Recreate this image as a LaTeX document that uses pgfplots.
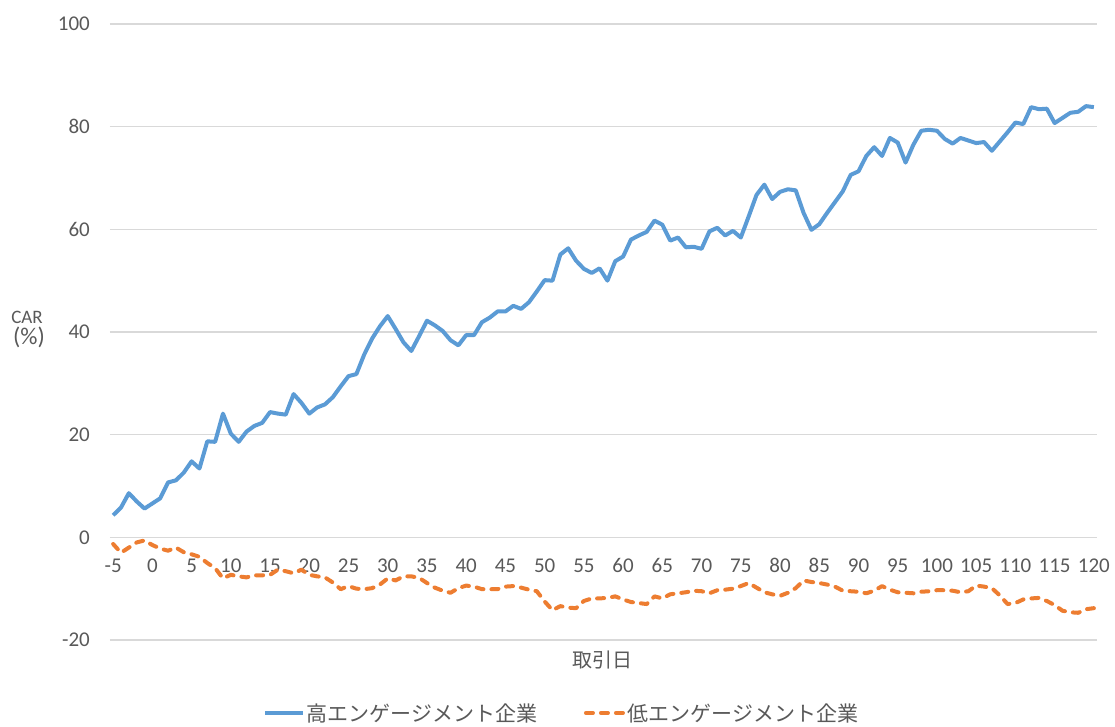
\documentclass[border=0pt]{standalone}
\usepackage{pgfplots}
\pgfplotsset{compat=1.18}
\usepackage{pgfplotstable}
\usepackage{fontspec}
\setmainfont{Carlito}
\newfontfamily\jp{Noto Sans CJK JP}
\definecolor{cblue}{HTML}{5B9BD5}
\definecolor{corange}{HTML}{ED7D31}
\definecolor{cgrid}{HTML}{D9D9D9}
\definecolor{ctext}{HTML}{595959}

\pgfplotstableread{
d hi lo
-5 4.3 -1.3
-4 5.8 -3.0
-3 8.6 -2.0
-2 7.0 -1.0
-1 5.6 -0.6
0 6.6 -1.5
1 7.6 -2.2
2 10.7 -2.6
3 11.1 -2.0
4 12.6 -2.9
5 14.8 -3.3
6 13.4 -3.8
7 18.7 -5.0
8 18.6 -6.0
9 24.1 -8.0
10 20.2 -7.3
11 18.6 -7.6
12 20.6 -7.8
13 21.7 -7.4
14 22.3 -7.4
15 24.4 -7.3
16 24.1 -6.3
17 23.9 -6.6
18 27.9 -7.0
19 26.2 -6.3
20 24.1 -7.3
21 25.3 -7.6
22 25.9 -7.8
23 27.3 -8.8
24 29.4 -10.1
25 31.4 -9.5
26 31.8 -10.0
27 35.6 -10.1
28 38.7 -9.9
29 41.1 -9.2
30 43.1 -8.0
31 40.6 -8.4
32 38.0 -7.6
33 36.3 -7.6
34 39.2 -7.9
35 42.2 -8.9
36 41.3 -9.8
37 40.2 -10.4
38 38.4 -10.8
39 37.4 -9.9
40 39.4 -9.4
41 39.4 -9.6
42 41.9 -10.1
43 42.8 -10.1
44 44.0 -10.1
45 44.0 -9.6
46 45.1 -9.5
47 44.5 -9.8
48 45.8 -10.2
49 47.9 -10.5
50 50.1 -12.5
51 50.0 -14.2
52 55.1 -13.4
53 56.3 -13.7
54 53.9 -13.8
55 52.3 -12.4
56 51.5 -11.9
57 52.4 -11.9
58 50.0 -11.8
59 53.8 -11.5
60 54.7 -12.1
61 58.0 -12.6
62 58.8 -12.8
63 59.5 -13.0
64 61.7 -11.5
65 60.9 -11.9
66 57.8 -11.1
67 58.4 -10.9
68 56.5 -10.7
69 56.6 -10.4
70 56.2 -10.5
71 59.6 -10.9
72 60.3 -10.3
73 58.8 -10.2
74 59.7 -10.0
75 58.4 -9.5
76 62.5 -8.9
77 66.7 -9.8
78 68.7 -10.7
79 65.9 -11.1
80 67.3 -11.4
81 67.8 -10.8
82 67.6 -9.9
83 63.2 -8.4
84 59.9 -8.7
85 61.0 -8.9
86 63.2 -9.2
87 65.3 -9.6
88 67.4 -10.4
89 70.6 -10.5
90 71.3 -10.6
91 74.3 -10.9
92 76.0 -10.4
93 74.3 -9.5
94 77.8 -10.2
95 76.9 -10.7
96 73.0 -10.8
97 76.5 -10.9
98 79.2 -10.6
99 79.4 -10.5
100 79.2 -10.3
101 77.6 -10.3
102 76.7 -10.4
103 77.8 -10.7
104 77.3 -10.5
105 76.8 -9.4
106 77.0 -9.6
107 75.3 -9.9
108 77.1 -11.3
109 78.9 -13.0
110 80.8 -12.8
111 80.5 -12.1
112 83.8 -11.9
113 83.4 -11.8
114 83.5 -12.4
115 80.7 -13.2
116 81.7 -14.3
117 82.7 -14.6
118 82.9 -14.7
119 84.0 -14.0
120 83.8 -13.8
}\datatable

\begin{document}
\begin{tikzpicture}
\path[use as bounding box] (-110pt,-87pt) rectangle (1005pt,640pt);
\begin{axis}[
  at={(0pt,0pt)}, anchor=south west,
  scale only axis, width=987pt, height=616pt,
  xmin=-5.4, xmax=120.4, ymin=-20, ymax=100,
  axis x line*=middle, axis y line*=left,
  axis line style={draw=none},
  major tick length=0pt,
  xtick={-5,0,...,120}, ytick={-20,0,...,100},
  ymajorgrids, grid style={cgrid, line width=1.5pt},
  /pgf/number format/assume math mode=true,
  tick label style={font=\fontsize{21}{24}\selectfont, text=ctext, inner sep=0pt},
  xticklabel style={anchor=north, yshift=-21pt},
  yticklabel style={anchor=east, xshift=-20pt},
  legend style={at={(axis description cs:0.4574,-0.1185)}, anchor=center, draw=none, fill=none,
    font=\jp\fontsize{21}{24}\selectfont, text=ctext, legend columns=2,
    /tikz/every even column/.append style={column sep=45pt}, inner sep=0pt,
    nodes={inner sep=1.5pt}},
  legend cell align=left,
  legend image code/.code={\draw[#1] (2pt,0pt) -- (40pt,0pt);},
]
\addplot[cblue, line width=4pt, line join=round] table[x=d,y=hi]{\datatable};
\addlegendentry{高エンゲージメント企業}
\addplot[corange, line width=4pt, line cap=round, line join=round, dash pattern=on 7pt off 8pt] table[x=d,y=lo]{\datatable};
\addlegendentry{低エンゲージメント企業}
\end{axis}
\node[font=\fontsize{19}{22}\selectfont, text=ctext] at (-83pt,323pt) {CAR};
\node[font=\fontsize{24}{28}\selectfont, text=ctext] at (-81pt,303pt) {(\%)};
\node[font=\jp\fontsize{20}{24}\selectfont, text=ctext] at (492pt,-20pt) {取引日};
\end{tikzpicture}
\end{document}
